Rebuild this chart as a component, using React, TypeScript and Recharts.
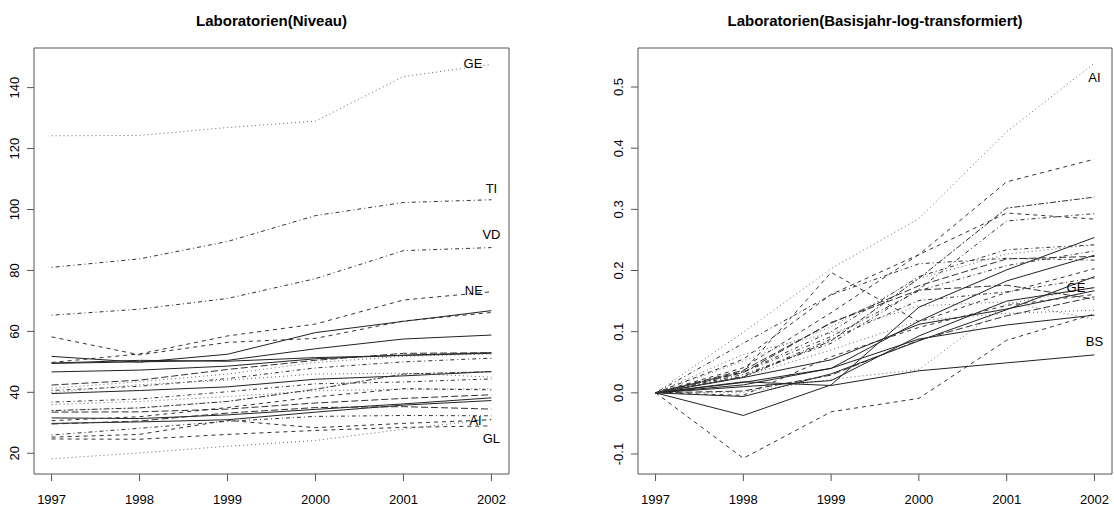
import React from 'react'
import { LineChart, Line, XAxis, YAxis, ReferenceArea, ReferenceDot } from 'recharts'

const years = [1997, 1998, 1999, 2000, 2001, 2002]

const cantons = [
  'GE', 'TI', 'VD', 'NE', 'BL', 'ZH', 'ZG', 'BS', 'BE', 'SO', 'LU', 'SG', 'FR',
  'SH', 'AG', 'GR', 'TG', 'VS', 'SZ', 'JU', 'AR', 'AI', 'GL', 'UR', 'OW', 'NW',
]

// Niveau (Laboratorien), one row per canton, 1997..2002
const levels = [
  [124.2, 124.3, 126.9, 129.0, 143.6, 147.6],
  [81.0, 83.8, 89.5, 98.0, 102.3, 103.2],
  [65.3, 67.3, 70.8, 77.3, 86.5, 87.5],
  [49.8, 52.6, 58.5, 62.4, 70.3, 73.0],
  [58.2, 52.3, 56.4, 57.7, 63.4, 66.2],
  [51.8, 49.9, 52.5, 59.6, 63.3, 66.8],
  [49.5, 50.0, 50.5, 54.3, 57.5, 58.8],
  [49.6, 50.5, 50.2, 51.4, 52.1, 52.8],
  [46.7, 47.3, 48.6, 51.0, 52.2, 53.0],
  [39.6, 40.6, 41.8, 44.3, 45.4, 46.8],
  [31.6, 31.4, 32.6, 34.4, 36.2, 38.2],
  [29.8, 30.3, 31.0, 33.5, 35.8, 37.3],
  [42.4, 44.0, 47.5, 50.5, 52.8, 53.0],
  [41.3, 43.5, 46.0, 49.8, 51.8, 52.6],
  [40.6, 42.0, 44.5, 48.0, 50.0, 51.2],
  [39.9, 42.5, 44.0, 46.0, 46.3, 45.0],
  [36.8, 37.8, 40.2, 42.8, 43.4, 44.4],
  [36.0, 37.0, 38.6, 40.5, 41.0, 41.2],
  [33.5, 33.6, 34.5, 36.5, 38.0, 39.2],
  [30.7, 32.0, 35.0, 38.5, 41.2, 40.8],
  [29.6, 30.6, 33.2, 35.0, 35.3, 34.5],
  [18.2, 20.1, 22.3, 24.2, 27.9, 31.2],
  [24.7, 24.6, 26.2, 27.5, 28.5, 29.0],
  [25.3, 26.2, 30.8, 28.4, 29.8, 31.0],
  [26.0, 28.2, 30.5, 32.1, 32.4, 32.3],
  [34.0, 34.9, 37.0, 41.0, 46.0, 46.8],
]

// Basisjahr-log-transformiert, same canton order
const logGrowth = [
  [0, 0.001, 0.022, 0.038, 0.145, 0.173],
  [0, 0.034, 0.100, 0.190, 0.234, 0.242],
  [0, 0.030, 0.081, 0.169, 0.281, 0.293],
  [0, 0.055, 0.161, 0.226, 0.345, 0.382],
  [0, -0.107, -0.031, -0.009, 0.086, 0.129],
  [0, -0.037, 0.013, 0.140, 0.201, 0.254],
  [0, 0.010, 0.020, 0.093, 0.150, 0.172],
  [0, 0.018, 0.012, 0.036, 0.049, 0.062],
  [0, 0.013, 0.040, 0.088, 0.111, 0.127],
  [0, 0.025, 0.054, 0.112, 0.137, 0.167],
  [0, -0.006, 0.031, 0.085, 0.136, 0.190],
  [0, 0.017, 0.040, 0.117, 0.183, 0.225],
  [0, 0.037, 0.114, 0.175, 0.219, 0.223],
  [0, 0.052, 0.108, 0.187, 0.227, 0.242],
  [0, 0.034, 0.092, 0.167, 0.208, 0.232],
  [0, 0.063, 0.098, 0.142, 0.149, 0.120],
  [0, 0.027, 0.088, 0.151, 0.165, 0.188],
  [0, 0.027, 0.070, 0.118, 0.130, 0.135],
  [0, 0.003, 0.029, 0.086, 0.126, 0.157],
  [0, 0.041, 0.131, 0.226, 0.294, 0.284],
  [0, 0.033, 0.115, 0.168, 0.176, 0.153],
  [0, 0.099, 0.203, 0.285, 0.427, 0.539],
  [0, -0.004, 0.059, 0.107, 0.143, 0.161],
  [0, 0.035, 0.197, 0.116, 0.164, 0.203],
  [0, 0.081, 0.160, 0.211, 0.220, 0.217],
  [0, 0.026, 0.085, 0.187, 0.302, 0.320],
]

const lineTypes = [
  'dotted', 'dotdash', 'dotdash', 'dashed', 'dashed', 'solid', 'solid', 'solid', 'solid',
  'solid', 'solid', 'solid', 'longdash', 'dotted', 'dotdash', 'dotted', 'dotdash', 'dotted',
  'longdash', 'dashed', 'longdash', 'dotted', 'dashed', 'dashed', 'dotdash', 'twodash',
]

const levelTicks = [20, 40, 60, 80, 100, 120, 140]
const logTicks = [-0.1, 0, 0.1, 0.2, 0.3, 0.4, 0.5]

const levelLabels = [
  { name: 'GE', year: 2001.79, value: 148.0 },
  { name: 'TI', year: 2002, value: 107.0 },
  { name: 'VD', year: 2002, value: 91.7 },
  { name: 'NE', year: 2001.8, value: 73.4 },
  { name: 'AI', year: 2001.82, value: 30.7 },
  { name: 'GL', year: 2002, value: 25.0 },
]
const logLabels = [
  { name: 'AI', year: 2002, value: 0.516 },
  { name: 'GE', year: 2001.79, value: 0.1725 },
  { name: 'BS', year: 2002, value: 0.084 },
]

const DASH: Record<string, string | undefined> = {
  solid: undefined,
  dashed: '4 4',
  dotted: '1 3',
  dotdash: '1 3 4 3',
  longdash: '7 3',
  twodash: '2 2 6 2',
}
const STROKE: Record<string, string> = {
  solid: '#222',
  dashed: '#333',
  dotted: '#666',
  dotdash: '#333',
  longdash: '#333',
  twodash: '#333',
}

const FONT = '"Liberation Sans", Arial, Helvetica, sans-serif'
const AXIS_COL = '#555'

const toRows = (table: number[][]) =>
  years.map((year, i) => {
    const row: Record<string, number> = { year }
    cantons.forEach((c, k) => { row[c] = table[k][i] })
    return row
  })

const levelRows = toRows(levels)
const logRows = toRows(logGrowth)

function RotTick(props: any) {
  const { x, y, payload, digits } = props
  const bx = x - 13 + 4.6
  return (
    <text
      x={bx}
      y={y}
      transform={`rotate(-90 ${bx} ${y})`}
      textAnchor="middle"
      fontSize={13}
      fontFamily={FONT}
      fill="#000"
    >
      {Number(payload.value).toFixed(digits)}
    </text>
  )
}

type PanelProps = {
  rows: Record<string, number>[]
  yDomain: [number, number]
  yTicks: number[]
  digits: number
  labels: { name: string; year: number; value: number }[]
  margin: { top: number; right: number; left: number; bottom: number }
}

function Panel({ rows, yDomain, yTicks, digits, labels, margin }: PanelProps) {
  const xDomain: [number, number] = [1996.8, 2002.2]
  return (
    <LineChart width={557} height={508} data={rows} margin={margin}>
      <XAxis
        type="number"
        dataKey="year"
        domain={xDomain}
        ticks={years}
        allowDataOverflow
        axisLine={false}
        tickLine={{ stroke: AXIS_COL }}
        tickSize={7}
        tickMargin={14}
        height={34}
        tick={{ fontSize: 13, fontFamily: FONT, fill: '#000' }}
      />
      <YAxis
        type="number"
        domain={yDomain}
        ticks={yTicks}
        allowDataOverflow
        axisLine={false}
        tickLine={{ stroke: AXIS_COL }}
        tickSize={7}
        tickMargin={0}
        width={34}
        tick={<RotTick digits={digits} />}
      />
      <ReferenceArea
        x1={xDomain[0]}
        x2={xDomain[1]}
        y1={yDomain[0]}
        y2={yDomain[1]}
        fill="none"
        fillOpacity={0}
        stroke={AXIS_COL}
        strokeWidth={1}
      />
      {cantons.map((c, k) => (
        <Line
          key={c}
          type="linear"
          dataKey={c}
          dot={false}
          activeDot={false}
          stroke={STROKE[lineTypes[k]]}
          strokeWidth={1}
          strokeDasharray={DASH[lineTypes[k]]}
          isAnimationActive={false}
        />
      ))}
      {labels.map((l) => (
        <ReferenceDot
          key={l.name}
          x={l.year}
          y={l.value}
          r={0}
          fill="none"
          stroke="none"
          ifOverflow="visible"
          label={{ value: l.name, position: 'center', fontSize: 13, fontFamily: FONT, fill: '#000' }}
        />
      ))}
    </LineChart>
  )
}

export default function App() {
  return (
    <div style={{ position: 'fixed', left: 0, top: 0, width: 1114, height: 508, background: '#fff', fontFamily: FONT }}>
      <div style={{ position: 'absolute', left: 0, top: 0 }}>
        <Panel
          rows={levelRows}
          yDomain={[13.2, 153.0]}
          yTicks={levelTicks}
          digits={0}
          labels={levelLabels}
          margin={{ top: 48, right: 48, left: 0, bottom: 0 }}
        />
      </div>
      <div style={{ position: 'absolute', left: 557, top: 0 }}>
        <Panel
          rows={logRows}
          yDomain={[-0.1327, 0.5638]}
          yTicks={logTicks}
          digits={1}
          labels={logLabels}
          margin={{ top: 48, right: 2, left: 47, bottom: 0 }}
        />
      </div>
      <svg width={1114} height={40} style={{ position: 'absolute', left: 0, top: 0, pointerEvents: 'none' }}>
        <text x={271.5} y={25.5} textAnchor="middle" fontSize={15} fontWeight="bold" fontFamily={FONT} fill="#000">
          Laboratorien(Niveau)
        </text>
        <text x={875} y={25.5} textAnchor="middle" fontSize={15} fontWeight="bold" fontFamily={FONT} fill="#000">
          Laboratorien(Basisjahr-log-transformiert)
        </text>
      </svg>
    </div>
  )
}
